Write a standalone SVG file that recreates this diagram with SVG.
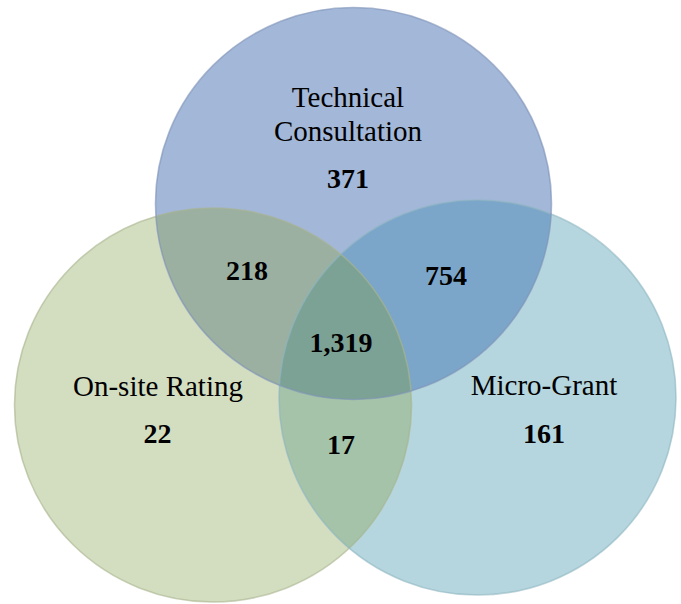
<svg xmlns="http://www.w3.org/2000/svg" width="681" height="604" viewBox="0 0 681 604">
  <style>
    .lbl { font-family: "Liberation Serif", "Times New Roman", serif; font-size: 29px; fill: #000; text-anchor: middle; }
    .num { font-family: "Liberation Serif", "Times New Roman", serif; font-size: 28px; font-weight: bold; fill: #000; text-anchor: middle; }
    .edge { fill: none; stroke-width: 1.6; }
  </style>
  <defs>
    <clipPath id="clipBlue"><ellipse cx="353.5" cy="203.5" rx="198" ry="196"/></clipPath>
    <clipPath id="clipGreen"><ellipse cx="213" cy="405" rx="198.5" ry="197"/></clipPath>
    <clipPath id="clipTeal"><ellipse cx="477.5" cy="397.5" rx="198.5" ry="197.5"/></clipPath>
  </defs>
  <rect width="681" height="604" fill="#ffffff"/>

  <g id="node-on-site-rating">
    <ellipse cx="213" cy="405" rx="198.5" ry="197" fill="#d3ddc0"/>
    <text class="lbl" x="158" y="396">On-site Rating</text>
    <text class="num" x="157.5" y="443">22</text>
  </g>

  <g id="node-micro-grant">
    <ellipse cx="477.5" cy="397.5" rx="198.5" ry="197.5" fill="#b5d6de"/>
    <text class="lbl" x="544" y="395">Micro-Grant</text>
    <text class="num" x="544" y="443">161</text>
  </g>

  <g id="node-technical-consultation">
    <ellipse cx="353.5" cy="203.5" rx="198" ry="196" fill="#a3b7d8"/>
    <text class="lbl" x="348" y="107">Technical</text>
    <text class="lbl" x="348" y="141">Consultation</text>
    <text class="num" x="348" y="188">371</text>
  </g>

  <g id="overlaps">
    <g id="overlap-tc-osr">
      <ellipse cx="213" cy="405" rx="198.5" ry="197" fill="#9bb0a1" clip-path="url(#clipBlue)"/>
    </g>
    <g id="overlap-tc-mg">
      <ellipse cx="477.5" cy="397.5" rx="198.5" ry="197.5" fill="#7ba6c9" clip-path="url(#clipBlue)"/>
    </g>
    <g id="overlap-osr-mg">
      <ellipse cx="477.5" cy="397.5" rx="198.5" ry="197.5" fill="#a4c3a9" clip-path="url(#clipGreen)"/>
    </g>
    <g id="overlap-all" clip-path="url(#clipBlue)">
      <ellipse cx="477.5" cy="397.5" rx="198.5" ry="197.5" fill="#7ca295" clip-path="url(#clipGreen)"/>
    </g>
  </g>

  <g id="edges">
    <ellipse class="edge" cx="213" cy="405" rx="198.5" ry="197" stroke="#a9b48e" stroke-opacity="0.6"/>
    <ellipse class="edge" cx="477.5" cy="397.5" rx="198.5" ry="197.5" stroke="#8fb5c2" stroke-opacity="0.6"/>
    <ellipse class="edge" cx="353.5" cy="203.5" rx="198" ry="196" stroke="#7f93b8" stroke-opacity="0.6"/>
  </g>

  <g id="overlap-labels">
    <text class="num" x="247" y="280">218</text>
    <text class="num" x="446" y="285">754</text>
    <text class="num" x="341" y="352">1,319</text>
    <text class="num" x="341" y="454">17</text>
  </g>
</svg>
